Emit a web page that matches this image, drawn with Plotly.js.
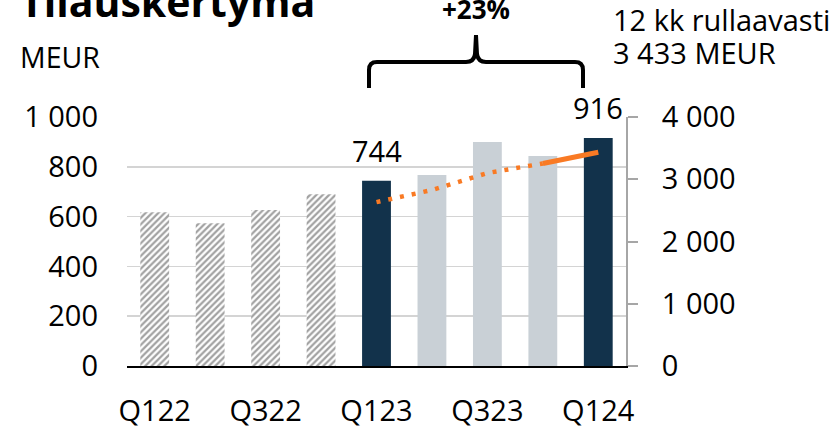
<!DOCTYPE html>
<html>
<head>
<meta charset="utf-8">
<script src="https://cdn.plot.ly/plotly-3.0.1.min.js"></script>
<style>html,body{margin:0;padding:0;background:#fff;}#chart{width:838px;height:429px;}</style>
</head>
<body>
<div id="chart"></div>
<script>
// ---- data ----
var quarters = ["Q122","Q222","Q322","Q422","Q123","Q223","Q323","Q423","Q124"];
var orderIntake = [617, 573, 627, 690, 744, 767, 900, 843, 916];
var barStyle = ["hatch","hatch","hatch","hatch","dark","light","light","light","dark"];
var labelledQuarters = ["Q123","Q124"];
var rollingQuarters = ["Q123","Q223","Q323","Q423"];
var rollingValues = [2633, 2827, 3100, 3253];
var rollingLastQuarters = ["Q423","Q124"];
var rollingLastValues = [3253, 3433];
var xTickLabels = ["Q122","Q322","Q123","Q323","Q124"];

// ---- layout helpers (pixel -> paper) ----
var L = 127, R = 626, T = 117, B = 366;
function px(x){ return (x - L) / (R - L); }
function py(y){ return (B - y) / (B - T); }
function pathPx(pts){
  return pts.map(function(c){
    var out = c[0];
    for (var i = 1; i < c.length; i += 2) out += " " + px(c[i]).toFixed(5) + "," + py(c[i+1]).toFixed(5);
    return out;
  }).join(" ");
}

var navy = "#12324B", lightGray = "#C9D0D6", hatchGray = "#9A9BA3", orange = "#F97A24";
var font = "Open Sans, Noto Sans, sans-serif";
var fs = 29;

var colors = barStyle.map(function(s){ return s === "dark" ? navy : (s === "light" ? lightGray : "#ffffff"); });
var shapesP = barStyle.map(function(s){ return s === "hatch" ? "/" : ""; });

var traces = [
  {
    type: "bar", x: quarters, y: orderIntake, yaxis: "y",
    marker: {
      color: colors,
      pattern: { shape: shapesP, fgcolor: hatchGray, bgcolor: "#ffffff", size: 4.5, solidity: 0.5, fillmode: "overlay" },
      line: { width: 0 }
    },
    hoverinfo: "skip", showlegend: false
  },
  {
    type: "scatter", mode: "lines", x: rollingQuarters, y: rollingValues, yaxis: "y2",
    line: { color: orange, width: 4.5, dash: "4px,8px" }, hoverinfo: "skip", showlegend: false
  },
  {
    type: "scatter", mode: "lines", x: rollingLastQuarters, y: rollingLastValues, yaxis: "y2",
    line: { color: orange, width: 5 }, hoverinfo: "skip", showlegend: false
  }
];

var annotations = labelledQuarters.map(function(q){
  var v = orderIntake[quarters.indexOf(q)];
  return { x: q, y: v, xref: "x", yref: "y", text: String(v), showarrow: false,
           yanchor: "bottom", yshift: 9, font: { family: font, size: fs, color: "#000" } };
});
annotations.push(
  { xref: "paper", yref: "paper", x: px(18), y: py(31), xanchor: "left", yanchor: "bottom",
    text: "<b>Tilauskertymä</b>", showarrow: false, font: { family: font, size: 41, color: "#000" } },
  { xref: "paper", yref: "paper", x: px(18), y: py(57), xanchor: "left", yanchor: "middle",
    text: "MEUR", showarrow: false, font: { family: font, size: 28.5, color: "#000" } },
  { xref: "paper", yref: "paper", x: px(476), y: py(9), xanchor: "center", yanchor: "middle",
    text: "<b>+23%</b>", showarrow: false, font: { family: font, size: 26, color: "#000" } },
  { xref: "paper", yref: "paper", x: px(611), y: py(19), xanchor: "left", yanchor: "middle",
    text: "12 kk rullaavasti", showarrow: false, font: { family: font, size: 29, color: "#000" } },
  { xref: "paper", yref: "paper", x: px(611), y: py(52), xanchor: "left", yanchor: "middle",
    text: "3 433 MEUR", showarrow: false, font: { family: font, size: 29, color: "#000" } }
);

var bracePath = pathPx([
  ["M", 369, 88], ["L", 369, 70], ["Q", 369, 62, 377, 62], ["L", 466, 62],
  ["Q", 474, 62, 475, 54], ["L", 476, 35], ["L", 477, 54], ["Q", 478, 62, 486, 62],
  ["L", 575, 62], ["Q", 583, 62, 583, 70], ["L", 583, 88]
]);

var layout = {
  width: 838, height: 429,
  margin: { l: L, r: 838 - R, t: T, b: 429 - B, pad: 0 },
  paper_bgcolor: "#ffffff", plot_bgcolor: "#ffffff",
  separators: ", ",
  bargap: 0.48,
  font: { family: font, size: fs, color: "#000" },
  xaxis: {
    type: "category", categoryorder: "array", categoryarray: quarters,
    tickmode: "array", tickvals: xTickLabels, ticktext: xTickLabels,
    showline: true, linecolor: "#000", linewidth: 2, ticks: "", showgrid: false,
    ticklabelstandoff: 18, tickfont: { family: font, size: fs, color: "#000" }, fixedrange: true
  },
  yaxis: {
    range: [0, 1000], dtick: 200, tick0: 0, separatethousands: true,
    showgrid: true, gridcolor: "#D4D4D4", gridwidth: 1.5, zeroline: false, showline: false,
    ticks: "", ticklabelstandoff: 28, tickfont: { family: font, size: fs, color: "#000" }, fixedrange: true
  },
  yaxis2: {
    overlaying: "y", side: "right", range: [0, 4000], dtick: 1000, tick0: 0, separatethousands: true,
    showgrid: false, zeroline: false, showline: true, linecolor: "#A6A6A6", linewidth: 2,
    ticks: "outside", ticklen: 10, tickwidth: 2, tickcolor: "#A6A6A6", ticklabelstandoff: 18,
    tickfont: { family: font, size: fs, color: "#000" }, fixedrange: true
  },
  annotations: annotations,
  shapes: [
    { type: "path", xref: "paper", yref: "paper", path: bracePath, line: { color: "#000", width: 4 } }
  ]
};

Plotly.newPlot("chart", traces, layout, { displayModeBar: false, staticPlot: true });
</script>
</body>
</html>
